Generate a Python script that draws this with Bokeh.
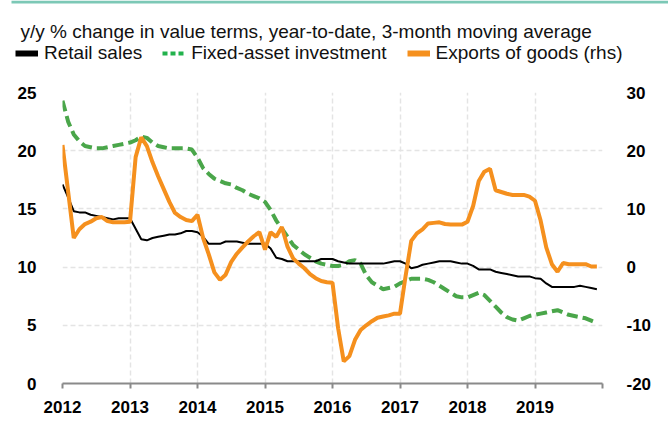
from bokeh.plotting import figure
from bokeh.models import (Range1d, LinearAxis, FixedTicker, Legend, LegendItem,
                          Label, BoxAnnotation)
from bokeh.layouts import column
from bokeh.embed import file_html
from bokeh.resources import INLINE

# ---------------- data (monthly, Jan 2012 .. Dec 2019) ----------------
start_year = 2012
retail_sales = [
    17.1, 16.0, 14.8, 14.7, 14.7, 14.5, 14.4, 14.3, 14.2, 14.1, 14.2, 14.2,
    14.2, 13.3, 12.4, 12.3, 12.5, 12.6, 12.7, 12.8, 12.8, 12.9, 13.1, 13.1,
    13.0, 12.6, 12.0, 12.0, 12.0, 12.2, 12.2, 12.2, 12.1, 12.0, 12.0, 12.0,
    12.0, 11.6, 10.8, 10.7, 10.5, 10.5, 10.5, 10.5, 10.5, 10.5, 10.7, 10.7,
    10.7, 10.5, 10.4, 10.3, 10.3, 10.3, 10.3, 10.3, 10.3, 10.3, 10.4, 10.5,
    10.5, 10.3, 9.9, 10.0, 10.2, 10.3, 10.4, 10.5, 10.5, 10.5, 10.4, 10.3,
    10.3, 10.1, 9.8, 9.8, 9.8, 9.6, 9.5, 9.4, 9.3, 9.2, 9.2, 9.2,
    9.05, 9.0, 8.6, 8.3, 8.3, 8.3, 8.3, 8.3, 8.4, 8.3, 8.2, 8.1,
]
fixed_asset_investment = [
    24.3, 22.5, 21.4, 20.8, 20.4, 20.3, 20.2, 20.2, 20.3, 20.4, 20.5, 20.6,
    20.7, 20.9, 21.2, 21.1, 20.7, 20.4, 20.3, 20.2, 20.2, 20.2, 20.2, 20.1,
    19.4, 18.5, 18.0, 17.6, 17.4, 17.2, 17.1, 16.8, 16.6, 16.3, 16.1, 15.9,
    15.6, 14.9, 14.0, 13.3, 12.6, 11.9, 11.5, 11.1, 10.8, 10.5, 10.3, 10.2,
    10.1, 10.1, 10.2, 10.5, 10.6, 10.3, 9.3, 8.7, 8.4, 8.1, 8.2, 8.3,
    8.6, 8.8, 9.0, 9.0, 9.0, 8.9, 8.7, 8.4, 8.1, 7.8, 7.5, 7.4,
    7.4, 7.6, 7.8, 7.6, 7.1, 6.6, 6.1, 5.7, 5.5, 5.4, 5.6, 5.8,
    5.9, 6.0, 6.1, 6.2, 6.3, 6.1, 5.9, 5.8, 5.7, 5.6, 5.4, 5.2,
]
exports_of_goods = [
    21.0, 13.0, 5.0, 6.5, 7.4, 7.8, 8.4, 8.6, 7.9, 7.7, 7.7, 7.7,
    7.8, 18.9, 22.3, 20.8, 18.0, 15.6, 13.4, 11.2, 9.3, 8.6, 8.1, 7.9,
    9.0, 5.0, 2.2, -0.9, -2.2, -1.3, 0.9, 2.3, 3.4, 4.4, 5.3, 6.0,
    3.0, 6.0, 5.2, 6.9, 3.5, 1.5, 0.6, -0.2, -1.2, -1.9, -2.4, -2.6,
    -2.7, -10.5, -16.2, -15.3, -12.5, -10.8, -10.0, -9.3, -8.7, -8.5, -8.3, -8.0,
    -8.0, -1.5, 4.5, 5.8, 6.5, 7.5, 7.6, 7.7, 7.4, 7.3, 7.3, 7.3,
    7.8, 10.5, 14.8, 16.4, 16.9, 13.2, 12.9, 12.6, 12.4, 12.4, 12.4, 12.1,
    11.4, 8.0, 3.4, 0.5, -0.8, 0.7, 0.5, 0.5, 0.5, 0.5, 0.1, 0.1,
]
year_ticks = [2012, 2013, 2014, 2015, 2016, 2017, 2018, 2019, 2020]
left_ticks = [0, 5, 10, 15, 20, 25]
right_ticks = [-20, -10, 0, 10, 20, 30]

title_text = "y/y % change in value terms, year-to-date, 3-month moving average"
legend_labels = ["Retail sales", "Fixed-asset investment", "Exports of goods (rhs)"]

months = [start_year + i / 12 for i in range(len(retail_sales))]

# ---------------- styling ----------------
BLACK = "#000000"
GREEN = "#4aa64a"
GREEN_LEG = "#22b24c"
ORANGE = "#f5901e"
GRID = "#e4e4e4"
AXIS = "#8a8a8a"
TEAL = "#7cc8b6"
FONT = "Liberation Sans"
W = 668
HEADER_H = 82

# ---------------- header (rule, title, legend) ----------------
head = figure(width=W, height=HEADER_H, output_backend="svg",
              toolbar_location=None, x_axis_type=None, y_axis_type=None,
              x_range=Range1d(0, W), y_range=Range1d(HEADER_H, 0),
              min_border=0, title=None)
head.frame_align = False
head.outline_line_color = None
head.background_fill_color = "white"
head.border_fill_color = "white"
head.grid.visible = False

head.add_layout(BoxAnnotation(left=11, right=W, top=0, bottom=3,
                              fill_color=TEAL, fill_alpha=1, line_color=None))
head.add_layout(Label(x=20, y=31, text=title_text, text_font=FONT,
                      text_font_size="19px", text_color="#111111",
                      text_baseline="alphabetic", text_align="left"))

# legend proxies: the real series, which fall outside the header's view
r1 = head.line(months, retail_sales, line_color=BLACK, line_width=6)
r2 = head.line(months, fixed_asset_investment, line_color=GREEN_LEG,
               line_width=4, line_dash="5 3")
r3 = head.line(months, exports_of_goods, line_color=ORANGE, line_width=6)
legend = Legend(items=[LegendItem(label=legend_labels[0], renderers=[r1]),
                       LegendItem(label=legend_labels[1], renderers=[r2]),
                       LegendItem(label=legend_labels[2], renderers=[r3])],
                orientation="horizontal", location=(15, 18),
                glyph_width=23, glyph_height=20, label_standoff=6, spacing=20,
                padding=0, margin=0, border_line_color=None,
                background_fill_alpha=0, label_height=20,
                label_text_font=FONT, label_text_font_size="19px",
                label_text_color="#111111")
head.add_layout(legend, "center")

# ---------------- main chart ----------------
p = figure(width=W, height=421 - HEADER_H, output_backend="svg",
           toolbar_location=None,
           x_range=Range1d(2012, 2020), y_range=Range1d(0, 25),
           min_border_left=62, min_border_right=66, min_border_top=10,
           min_border_bottom=38, title=None)
p.frame_align = False
p.outline_line_color = None
p.background_fill_color = "white"
p.border_fill_color = "white"
p.extra_y_ranges = {"rhs": Range1d(-20, 30)}

xa = p.xaxis[0]
xa.ticker = FixedTicker(ticks=year_ticks)
xa.major_label_overrides = {2020: ""}
xa.axis_line_color = AXIS
xa.axis_line_width = 2
xa.major_tick_line_color = AXIS
xa.major_tick_line_width = 2
xa.major_tick_out = 5
xa.major_tick_in = 0
xa.minor_tick_line_color = None
xa.major_label_text_font = FONT
xa.major_label_text_font_style = "bold"
xa.major_label_text_font_size = "17px"
xa.major_label_text_color = BLACK
xa.major_label_standoff = 12

ya = p.yaxis[0]
ya.ticker = FixedTicker(ticks=left_ticks)
ya.axis_line_color = None
ya.major_tick_line_color = None
ya.minor_tick_line_color = None
ya.major_label_text_font = FONT
ya.major_label_text_font_style = "bold"
ya.major_label_text_font_size = "17px"
ya.major_label_text_color = BLACK
ya.major_label_standoff = 20

ra = LinearAxis(y_range_name="rhs", ticker=FixedTicker(ticks=right_ticks))
ra.major_label_overrides = {t: f"{t:d}" for t in right_ticks}
ra.axis_line_color = None
ra.major_tick_line_color = None
ra.minor_tick_line_color = None
ra.major_label_text_font = FONT
ra.major_label_text_font_style = "bold"
ra.major_label_text_font_size = "17px"
ra.major_label_text_color = BLACK
ra.major_label_standoff = 18
p.add_layout(ra, "right")

p.xgrid.ticker = FixedTicker(ticks=year_ticks)
p.ygrid.ticker = FixedTicker(ticks=left_ticks)
for g in (p.xgrid[0], p.ygrid[0]):
    g.grid_line_color = GRID
    g.grid_line_dash = "5 3"
    g.grid_line_width = 1.5

p.line(months, fixed_asset_investment, line_color=GREEN, line_width=4,
       line_dash="11 5")
p.line(months, retail_sales, line_color=BLACK, line_width=2)
p.line(months, exports_of_goods, line_color=ORANGE, line_width=4,
       y_range_name="rhs")

layout = column(head, p, spacing=0)
open("out.html", "w").write(file_html(layout, INLINE))
